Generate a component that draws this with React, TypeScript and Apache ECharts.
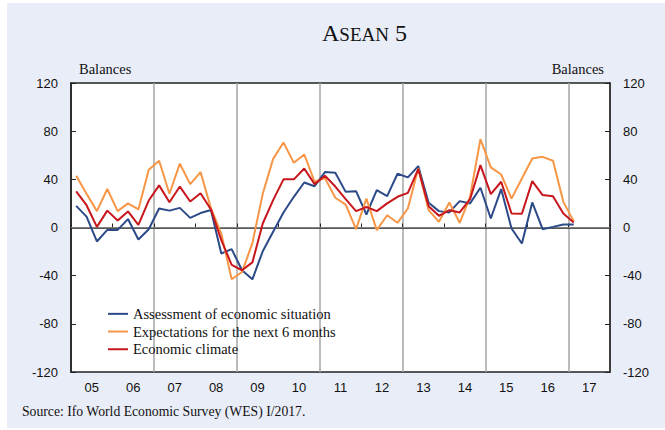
import React, { useEffect, useRef } from "react";
import * as echarts from "echarts";

// Year labels on the x axis (each spans one calendar year)
const yearLabels = ["05", "06", "07", "08", "09", "10", "11", "12", "13", "14", "15", "16", "17"];
const firstYear = 2005;
const lastYear = 2018;

// Quarterly survey balances, 2005 Q1 .. 2017 Q1
const assessment = [
  18, 9, -11.6, -2, -2, 7, -10, -1.4,
  15.8, 14, 16.3, 8, 12, 14.5, -21.6, -18,
  -35.5, -43, -19.7, -3.6, 12.5, 25.5, 37.4, 34.3,
  46, 45.4, 29.6, 30.2, 10.8, 31, 26, 44.6,
  41.6, 51, 20.5, 13.6, 12.5, 21.9, 20, 33,
  7.5, 31.9, -0.8, -13.3, 20.8, -1.4, 0.5, 2.5,
  2.5,
];
const expectations = [
  43, 28, 13.6, 32, 13.6, 20, 15, 48,
  55.4, 28, 53, 36, 46, 16, -5, -43,
  -37, -13, 28, 57, 70.6, 53.7, 60.7, 38,
  41, 24.7, 19, -1.4, 24, -2.2, 10.2, 3.9,
  15.8, 49, 14.4, 4.7, 20.8, 3.9, 25.5, 73.4,
  49.9, 44, 24, 40.7, 57.3, 58.7, 55.4, 21.3,
  5.3,
];
const climate = [
  30, 18.5, 0.5, 14, 5.8, 13.3, 2.2, 22.4,
  35, 21, 34, 21.6, 28.5, 15, -10.5, -31,
  -35.5, -29, 3.3, 22.7, 40, 40, 49, 36,
  43, 34, 23.5, 13.6, 17, 13.6, 20, 25.5,
  28.8, 48.5, 17.7, 9.7, 14.4, 12.5, 23.5, 51.8,
  27.7, 38, 11.6, 11.4, 38.5, 26.9, 26, 11.6,
  4.2,
];

const seriesNames = [
  "Assessment of economic situation",
  "Expectations for the next 6 months",
  "Economic climate",
];
const colors = ["#2C4A88", "#F79646", "#C8161D"];

const SERIF = "'Liberation Serif', 'Times New Roman', serif";
const SANS = "'Liberation Sans', Arial, sans-serif";

// time position of quarter i (middle of the quarter)
const toPoints = (vals: number[]) =>
  vals.map((v, i) => [firstYear + 0.125 + i * 0.25, v]);

export default function App() {
  const ref = useRef<HTMLDivElement>(null);

  useEffect(() => {
    document.body.style.margin = "0";
    if (!ref.current) return;
    const chart = echarts.init(ref.current, undefined, { renderer: "svg" });

    const yAxisCommon = {
      type: "value" as const,
      min: -120,
      max: 120,
      interval: 40,
      splitLine: { show: false },
      axisLine: { show: true, lineStyle: { color: "#222", width: 1.5 } },
      axisTick: { show: true, inside: true, length: 5, lineStyle: { color: "#222", width: 1 } },
      axisLabel: { fontFamily: SANS, fontSize: 13, color: "#111", margin: 13 },
      name: "Balances",
      nameLocation: "end" as const,
      nameGap: 7,
    };

    chart.setOption({
      animation: false,
      title: [
        {
          text: "{a|A}{b|SEAN}{a| 5}",
          left: 322,
          top: 21,
          padding: 0,
          textStyle: {
            fontWeight: "normal",
            rich: {
              a: { fontFamily: SERIF, fontSize: 24, fontWeight: "normal", color: "#111" },
              b: { fontFamily: SERIF, fontSize: 19, fontWeight: "normal", color: "#111", padding: [3, 0, 0, 0] },
            },
          },
        },
        {
          text: "Source: Ifo World Economic Survey (WES) I/2017.",
          left: 22,
          top: 404,
          padding: 0,
          textStyle: { fontFamily: SERIF, fontSize: 13.7, fontWeight: "normal", color: "#111" },
        },
      ],
      legend: {
        orient: "vertical",
        left: 108,
        top: 305,
        padding: 0,
        itemGap: 0,
        itemWidth: 20,
        itemHeight: 2,
        icon: "rect",
        data: seriesNames,
        textStyle: { fontFamily: SERIF, fontSize: 14.5, color: "#111", lineHeight: 17.7 },
      },
      grid: {
        left: 71,
        top: 83,
        width: 539,
        height: 289,
        show: true,
        backgroundColor: "#ffffff",
        borderColor: "#222",
        borderWidth: 1.5,
      },
      xAxis: [
        {
          type: "category",
          data: yearLabels,
          boundaryGap: true,
          axisLine: { show: true, lineStyle: { color: "#222", width: 1.5 } },
          axisTick: { show: true, inside: true, length: 4, lineStyle: { color: "#222" } },
          axisLabel: { fontFamily: SANS, fontSize: 13, color: "#111", margin: 9 },
          splitLine: {
            show: true,
            interval: (index: number) => index > 0 && index % 2 === 0,
            lineStyle: { color: "#A6A6A6", width: 1.5 },
          },
        },
        {
          type: "value",
          min: firstYear,
          max: lastYear,
          show: false,
        },
      ],
      yAxis: [
        {
          ...yAxisCommon,
          position: "left",
          nameTextStyle: { fontFamily: SERIF, fontSize: 14.5, color: "#111", align: "left", padding: [0, 0, 0, 8] },
        },
        {
          ...yAxisCommon,
          position: "right",
          nameTextStyle: { fontFamily: SERIF, fontSize: 14.5, color: "#111", align: "right", padding: [0, 6, 0, 0] },
        },
      ],
      series: [assessment, expectations, climate].map((vals, k) => ({
        name: seriesNames[k],
        type: "line",
        xAxisIndex: 1,
        yAxisIndex: 0,
        data: toPoints(vals),
        showSymbol: false,
        symbol: "none",
        color: colors[k],
        lineStyle: { color: colors[k], width: 2 },
        z: 3 + k,
        ...(k === 0
          ? {
              markLine: {
                silent: true,
                symbol: "none",
                label: { show: false },
                lineStyle: { color: "#808080", width: 1.2, type: "solid" },
                data: [{ yAxis: 0 }],
                z: 1,
              },
            }
          : {}),
      })),
    });

    return () => chart.dispose();
  }, []);

  return (
    <div style={{ position: "relative", width: 665, height: 430, background: "#ffffff", overflow: "hidden" }}>
      <div
        style={{
          position: "absolute",
          left: 7,
          top: 3,
          width: 658,
          height: 425,
          background: "#E9EDF8",
        }}
      />
      <div ref={ref} style={{ position: "absolute", left: 0, top: 0, width: 665, height: 430 }} />
    </div>
  );
}
